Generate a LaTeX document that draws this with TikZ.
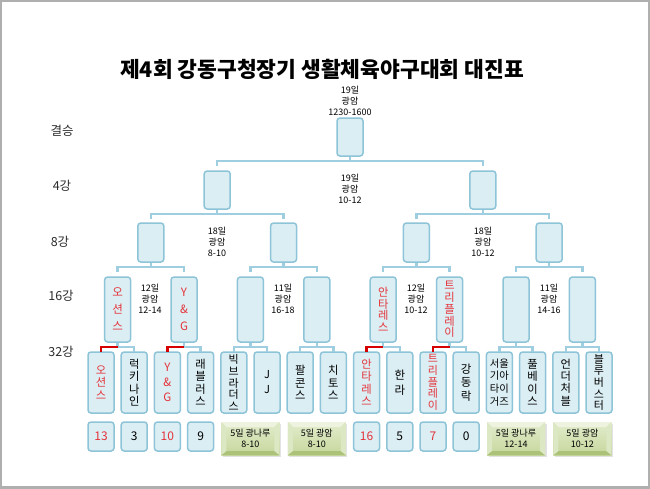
\documentclass[tikz,border=0pt]{standalone}
\usepackage{fontspec}
\setmainfont{Noto Sans CJK KR}
\usetikzlibrary{calc,shadows}
\definecolor{bfill}{RGB}{219,238,244}
\definecolor{bline}{RGB}{142,196,216}
\definecolor{cline}{RGB}{158,206,224}
\definecolor{winred}{RGB}{215,0,0}
\definecolor{rtext}{RGB}{228,52,58}
\definecolor{lbl}{RGB}{45,45,45}
\definecolor{gtopc}{RGB}{226,236,204}
\definecolor{gbotc}{RGB}{198,215,156}
\definecolor{gtop}{RGB}{238,243,224}
\definecolor{gside}{RGB}{220,231,196}
\definecolor{gbot}{RGB}{172,194,120}
\definecolor{frame}{RGB}{175,175,175}
\tikzset{
  tbox/.style={draw=bline,fill=bfill,line width=1.5pt,rounded corners=3pt,inner sep=0pt,minimum width=26pt,align=center},
  b32/.style={tbox,minimum height=61pt,font=\fontsize{11.3}{12.4}\selectfont},
  b16/.style={tbox,minimum height=65pt,font=\fontsize{11.3}{12}\selectfont},
  b8/.style={tbox,minimum height=39pt},
  sc/.style={tbox,minimum height=29pt,font=\fontsize{12}{13}\selectfont},
  cn/.style={cline,line width=2.5pt},
  wn/.style={winred,line width=2.5pt},
  lvl/.style={font=\fontsize{12.5}{14}\selectfont,text=lbl},
  dt/.style={font=\fontsize{9}{11}\selectfont,align=center,inner sep=0pt},
  rt/.style={text=rtext},
  gbox/.style={minimum width=58pt,minimum height=33pt,inner sep=0pt,align=center,
    top color=gtopc,bottom color=gbotc,font=\fontsize{9}{10.5}\selectfont,
    drop shadow={shadow xshift=1.5pt,shadow yshift=-1.5pt,fill=black!22},
    path picture={
      \fill[gtop] (path picture bounding box.north west) -- (path picture bounding box.north east)
        -- ([xshift=-5pt,yshift=-5pt]path picture bounding box.north east)
        -- ([xshift=5pt,yshift=-5pt]path picture bounding box.north west) -- cycle;
      \fill[gbot] (path picture bounding box.south west) -- (path picture bounding box.south east)
        -- ([xshift=-5pt,yshift=4pt]path picture bounding box.south east)
        -- ([xshift=5pt,yshift=4pt]path picture bounding box.south west) -- cycle;
      \fill[gside] (path picture bounding box.north west) -- ([xshift=5pt,yshift=-5pt]path picture bounding box.north west)
        -- ([xshift=5pt,yshift=4pt]path picture bounding box.south west) -- (path picture bounding box.south west) -- cycle;
      \fill[gside] (path picture bounding box.north east) -- ([xshift=-5pt,yshift=-5pt]path picture bounding box.north east)
        -- ([xshift=-5pt,yshift=4pt]path picture bounding box.south east) -- (path picture bounding box.south east) -- cycle;
    }}
}
\newcommand\brk[3]{%
  \draw[cn] (#1.south) -- ++(0,4) coordinate (m#1);
  \draw[cn] (#2.north |- m#1) ++(0,5) -- (#2.north |- m#1) -- (#3.north |- m#1) -- ++(0,5);}
\newcommand\wbrk[2]{%
  \draw[wn] (#2.north |- m#1) ++(0,5) -- (#2.north |- m#1) -- (m#1);}
\begin{document}
\begin{tikzpicture}[x=1pt,y=-1pt]
\useasboundingbox (0,0) rectangle (650,488);
\fill[white] (0,0) rectangle (650,488);
\draw[frame,line width=2.2pt] (0.5,0.5) rectangle (649.5,487.5);

\node[font=\bfseries\fontsize{21.5}{24}\selectfont] (title) at (322,69) {제4회 강동구청장기 생활체육야구대회 대진표};

% level labels
\node[lvl] (l1) at (62,131) {결승};
\node[lvl] (l2) at (62,186) {4강};
\node[lvl] (l3) at (60,242) {8강};
\node[lvl] (l4) at (61,296) {16강};
\node[lvl] (l5) at (61,352) {32강};

% final and 4
\node[b8,minimum height=38pt] (F) at (350,137) {};
\node[b8,minimum height=38pt] (Q1) at (217.2,190) {};
\node[b8,minimum height=38pt] (Q2) at (482.8,190) {};
% 8
\node[b8] (E1) at (150.8,242.5) {};
\node[b8] (E2) at (283.6,242.5) {};
\node[b8] (E3) at (416.4,242.5) {};
\node[b8] (E4) at (549.2,242.5) {};
% 16
\node[b16,rt,font=\fontsize{11.5}{17}\selectfont] (R1) at (117.6,309.5) {오\\션\\스};
\node[b16,rt,font=\fontsize{11.5}{17}\selectfont] (R2) at (184.0,309.5) {Y\\\&\\G};
\node[b16] (R3) at (250.4,309.5) {};
\node[b16] (R4) at (316.8,309.5) {};
\node[b16,rt,font=\fontsize{11.3}{11.6}\selectfont] (R5) at (383.2,309.5) {안\\타\\레\\스};
\node[b16,rt,font=\fontsize{11.3}{11.8}\selectfont] (R6) at (449.6,309.5) {트\\리\\플\\레\\이};
\node[b16] (R7) at (516.0,309.5) {};
\node[b16] (R8) at (582.4,309.5) {};
% 32
\node[b32,rt] (S1) at (101.0,382.5) {오\\션\\스};
\node[b32] (S2) at (134.2,382.5) {럭\\키\\나\\인};
\node[b32,rt,font=\fontsize{11.5}{15}\selectfont] (S3) at (167.4,382.5) {Y\\\&\\G};
\node[b32] (S4) at (200.6,382.5) {래\\블\\러\\스};
\node[b32,font=\fontsize{11}{11.6}\selectfont] (S5) at (233.8,382.5) {빅\\브\\라\\더\\스};
\node[b32,font=\fontsize{11}{15}\selectfont] (S6) at (267.0,382.5) {J\\J};
\node[b32] (S7) at (300.2,382.5) {팔\\콘\\스};
\node[b32] (S8) at (333.4,382.5) {치\\토\\스};
\node[b32,rt] (S9) at (366.6,382.5) {안\\타\\레\\스};
\node[b32,font=\fontsize{11.5}{15}\selectfont] (S10) at (399.8,382.5) {한\\라};
\node[b32,rt,font=\fontsize{11}{11.6}\selectfont] (S11) at (433.0,382.5) {트\\리\\플\\레\\이};
\node[b32,font=\fontsize{11.5}{13.5}\selectfont] (S12) at (466.2,382.5) {강\\동\\락};
\node[b32,font=\fontsize{10.3}{12.8}\selectfont] (S13) at (499.4,382.5) {서울\\기아\\타이\\거즈};
\node[b32] (S14) at (532.6,382.5) {풀\\베\\이\\스};
\node[b32] (S15) at (565.8,382.5) {언\\더\\처\\블};
\node[b32,font=\fontsize{11}{11.6}\selectfont] (S16) at (599.0,382.5) {블\\루\\버\\스\\터};

% scores
\node[sc,rt] (N1) at (101.0,436.5) {13};
\node[sc] (N2) at (134.2,436.5) {3};
\node[sc,rt] (N3) at (167.4,436.5) {10};
\node[sc] (N4) at (200.6,436.5) {9};
\node[sc,rt] (N9) at (366.6,436.5) {16};
\node[sc] (N10) at (399.8,436.5) {5};
\node[sc,rt] (N11) at (433.0,436.5) {7};
\node[sc] (N12) at (466.2,436.5) {0};
\node[gbox] (G1) at (250.4,438.5) {5일 광나루\\8-10};
\node[gbox] (G2) at (316.8,438.5) {5일 광암\\8-10};
\node[gbox] (G3) at (516.0,438.5) {5일 광나루\\12-14};
\node[gbox] (G4) at (582.4,438.5) {5일 광암\\10-12};

% schedule texts
\node[dt] (d1) at (350,101) {19일\\광암\\1230-1600};
\node[dt] (d2) at (350,189) {19일\\광암\\10-12};
\node[dt] (d3) at (217,242) {18일\\광암\\8-10};
\node[dt] (d4) at (483,242) {18일\\광암\\10-12};
\node[dt] (d5) at (150,299) {12일\\광암\\12-14};
\node[dt] (d6) at (283,299) {11일\\광암\\16-18};
\node[dt] (d7) at (416,299) {12일\\광암\\10-12};
\node[dt] (d8) at (549,299) {11일\\광암\\14-16};

% brackets
\brk{F}{Q1}{Q2}
\brk{Q1}{E1}{E2}
\brk{Q2}{E3}{E4}
\brk{E1}{R1}{R2}
\brk{E2}{R3}{R4}
\brk{E3}{R5}{R6}
\brk{E4}{R7}{R8}
\brk{R1}{S1}{S2}
\brk{R2}{S3}{S4}
\brk{R3}{S5}{S6}
\brk{R4}{S7}{S8}
\brk{R5}{S9}{S10}
\brk{R6}{S11}{S12}
\brk{R7}{S13}{S14}
\brk{R8}{S15}{S16}
\wbrk{R1}{S1}
\wbrk{R2}{S3}
\wbrk{R5}{S9}
\wbrk{R6}{S11}
\end{tikzpicture}
\end{document}
